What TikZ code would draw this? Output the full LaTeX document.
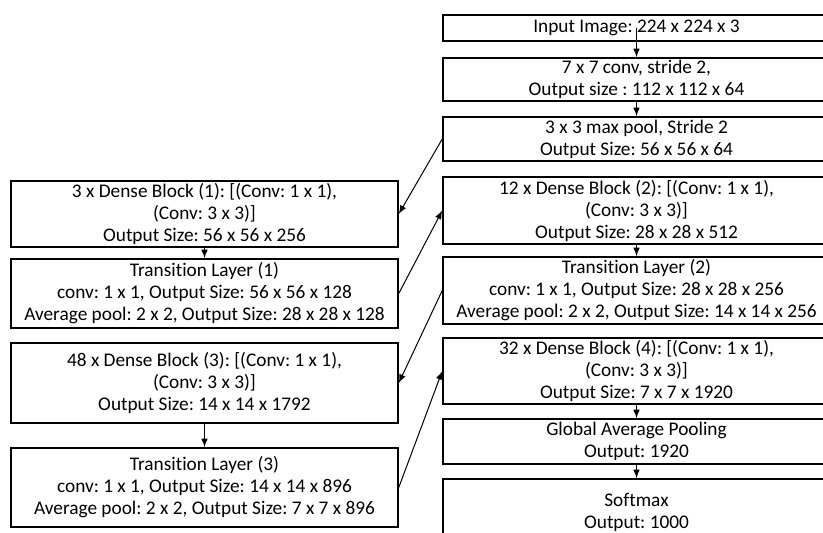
\documentclass[tikz,border=0pt]{standalone}
\usepackage{fontspec}
\setmainfont{Carlito}[Ligatures=NoCommon]
\frenchspacing
\begin{document}
\begin{tikzpicture}[>=latex,x=0.5pt,y=-0.5pt,
	layer/.style={draw,line width=0.75pt,align=center,minimum width=193.5pt,inner sep=0pt,font=\fontsize{9.65}{11}\selectfont},
	flow/.style={->,line width=0.5pt}]
		\useasboundingbox (0,0) rectangle (823,532);
		\node[layer,minimum height=13pt] (input) at (636.5,28) {Input Image: 224 x 224 x 3};
		\node[layer,minimum height=21.5pt] (conv) at (636.5,79.5) {7 x 7 conv, stride 2,\\Output size : 112 x 112 x 64};
		\node[layer,minimum height=22pt] (pool) at (636.5,139) {3 x 3 max pool, Stride 2\\Output Size: 56 x 56 x 64};
		\node[layer,minimum height=33pt] (dense1) at (204.5,214) {3 x Dense Block (1): [(Conv: 1 x 1),\\(Conv: 3 x 3)]\\Output Size: 56 x 56 x 256};
		\node[layer,minimum height=34.5pt] (trans1) at (204.5,293.5) {Transition Layer (1)\\conv: 1 x 1, Output Size: 56 x 56 x 128\\Average pool: 2 x 2, Output Size: 28 x 28 x 128};
		\node[layer,minimum height=33.5pt] (dense2) at (636.5,210.5) {12 x Dense Block (2): [(Conv: 1 x 1),\\(Conv: 3 x 3)]\\Output Size: 28 x 28 x 512};
		\node[layer,minimum height=33.5pt] (trans2) at (636.5,290.5) {Transition Layer (2)\\conv: 1 x 1, Output Size: 28 x 28 x 256\\Average pool: 2 x 2, Output Size: 14 x 14 x 256};
		\node[layer,minimum height=40pt] (dense3) at (204.5,383) {48 x Dense Block (3): [(Conv: 1 x 1),\\(Conv: 3 x 3)]\\Output Size: 14 x 14 x 1792};
		\node[layer,minimum height=39.5pt] (trans3) at (204.5,487.5) {Transition Layer (3)\\conv: 1 x 1, Output Size: 14 x 14 x 896\\Average pool: 2 x 2, Output Size: 7 x 7 x 896};
		\node[layer,minimum height=33pt] (dense4) at (636.5,371) {32 x Dense Block (4): [(Conv: 1 x 1),\\(Conv: 3 x 3)]\\Output Size: 7 x 7 x 1920};
		\node[layer,minimum height=22.5pt] (gap) at (636.5,441.5) {Global Average Pooling\\Output: 1920};
		\node[layer,minimum height=33pt] (softmax) at (636.5,512) {Softmax\\Output: 1000};
		\draw[flow] (input.center) -- (conv.north);
		\draw[flow] (conv) -- (pool);
		\draw[flow] (pool.west) -- (dense1.east);
		\draw[flow] (dense1) -- (trans1);
		\draw[flow] (trans1.east) -- (dense2.west);
		\draw[flow] (dense2) -- (trans2);
		\draw[flow] (trans2.west) -- (dense3.east);
		\draw[flow] (dense3) -- (trans3);
		\draw[flow] (trans3.east) -- (dense4.west);
		\draw[flow] (dense4) -- (gap);
		\draw[flow] (gap) -- (softmax);
\end{tikzpicture}
\end{document}
